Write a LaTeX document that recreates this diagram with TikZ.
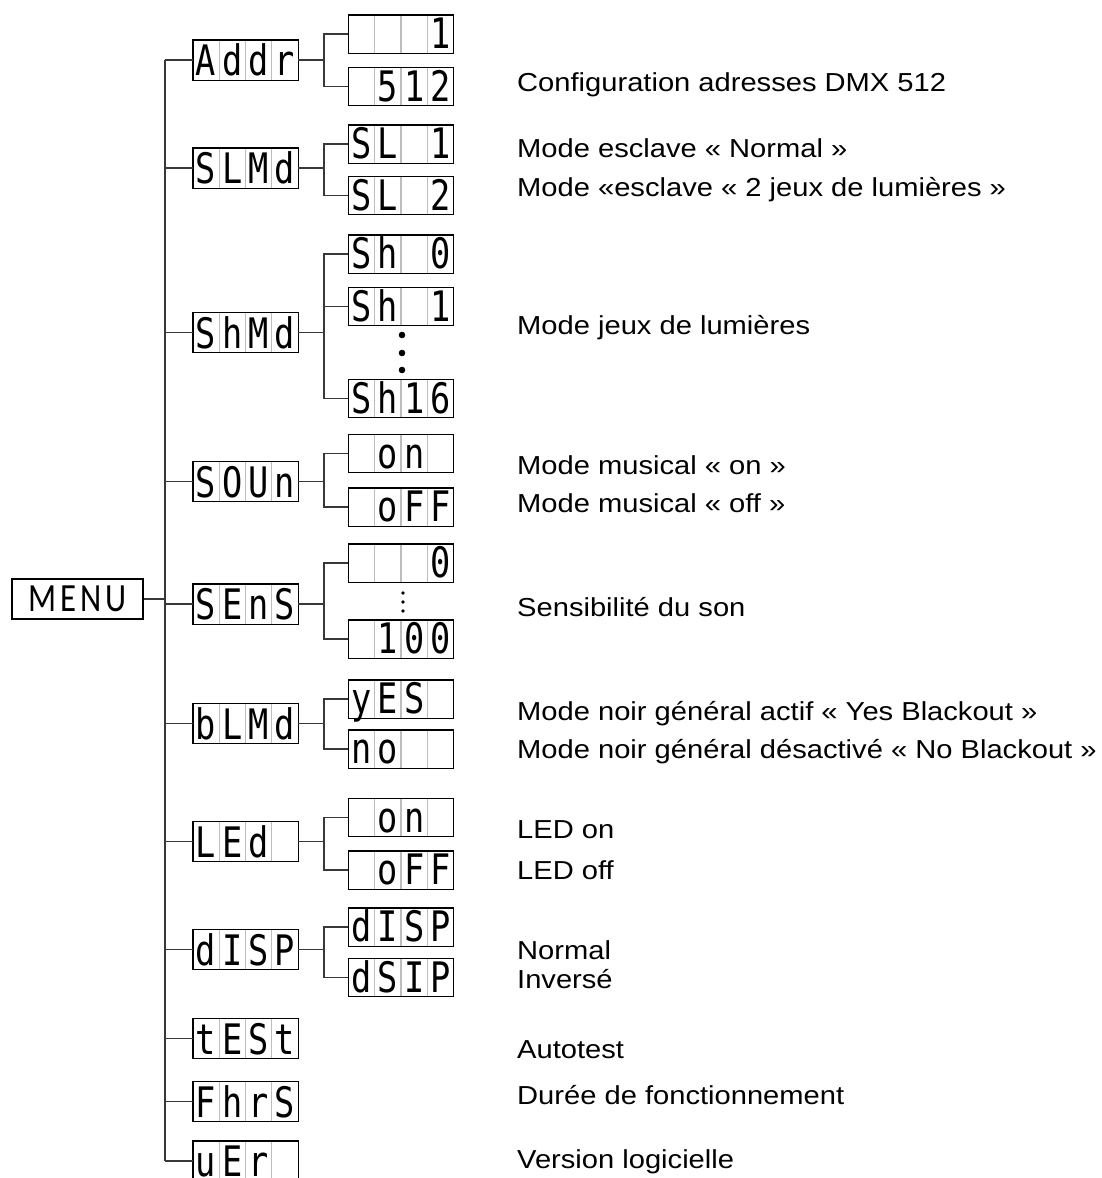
\documentclass[tikz,border=0pt]{standalone}
\usepackage{graphicx}
\usepackage{fontspec}
\setmainfont{Liberation Sans}[FakeStretch=1.12]
\newfontfamily\segfont{DejaVu Sans Mono}[FakeStretch=0.8]
\newfontfamily\menufont{Carlito}
\usetikzlibrary{calc}
\definecolor{connc}{HTML}{383838}
\definecolor{divc}{HTML}{BDBDBD}
\tikzset{
  lone/.style={rectangle, minimum width=105pt, minimum height=40pt, inner sep=0pt},
  ltwo/.style={rectangle, minimum width=105pt, minimum height=38pt, inner sep=0pt},
  boxline/.style={draw=black, line width=1.4pt},
  celldiv/.style={draw=divc, line width=1.1pt},
  segchar/.style={font=\segfont\fontsize{42}{42}\selectfont, inner sep=0pt, anchor=base, text depth=0pt},
  conn/.style={draw=connc, line width=1.5pt},
  desc/.style={font=\fontsize{26}{30}\selectfont, inner sep=0pt, anchor=base west},
  menubox/.style={draw=black, line width=1.4pt, minimum width=131pt, minimum height=40pt, inner sep=0pt,
    font=\menufont\fontsize{40}{42}\selectfont},
  dotbig/.style={fill=black},
}
\newcommand\lcd[7]{%
  \node[#3] (#1) at (#2) {};
  \foreach \k in {1,2,3}{\draw[celldiv] ($(#1.north west)!\k/4!(#1.north east)$) -- ($(#1.south west)!\k/4!(#1.south east)$);}
  \draw[boxline] (#1.north west) rectangle (#1.south east);
  \node[segchar] (#1-a) at ($(#1.south west)!0.125!(#1.south east)+(0,-4.5)$) {#4};
  \node[segchar] (#1-b) at ($(#1.south west)!0.375!(#1.south east)+(0,-4.5)$) {#5};
  \node[segchar] (#1-c) at ($(#1.south west)!0.625!(#1.south east)+(0,-4.5)$) {#6};
  \node[segchar] (#1-d) at ($(#1.south west)!0.875!(#1.south east)+(0,-4.5)$) {#7};
}
\begin{document}
\begin{tikzpicture}[x=1pt,y=-1pt]
\useasboundingbox (0,0) rectangle (1102,1178);
\clip (0,0) rectangle (1102,1178);

% MENU
\node[menubox] (menu) at (77.5,599) {\scalebox{0.82}[1]{M\kern5pt E\kern5pt N\kern5pt U}};
\coordinate (trunk) at (165,0);

% level 1
\lcd{addr}{245.5,60}{lone}{A}{d}{d}{r}
\lcd{slmd}{245.5,168}{lone}{S}{L}{M}{d}
\lcd{shmd}{245.5,332.5}{lone}{S}{h}{M}{d}
\lcd{soun}{245.5,481.5}{lone}{S}{O}{U}{n}
\lcd{sens}{245.5,604}{lone}{S}{E}{n}{S}
\lcd{blmd}{245.5,723.5}{lone}{b}{L}{M}{d}
\lcd{led}{245.5,841.5}{lone}{L}{E}{d}{}
\lcd{disp}{245.5,949.5}{lone}{d}{I}{S}{P}
\lcd{test}{245.5,1038.5}{lone}{t}{E}{S}{t}
\lcd{fhrs}{245.5,1101.5}{lone}{F}{h}{r}{S}
\lcd{ver}{245.5,1161}{lone}{u}{E}{r}{}

% level 2
\lcd{addrA}{401,34}{ltwo}{}{}{}{1}
\lcd{addrB}{401,86.5}{ltwo}{}{5}{1}{2}
\lcd{slA}{401,144}{ltwo}{S}{L}{}{1}
\lcd{slB}{401,195.5}{ltwo}{S}{L}{}{2}
\lcd{shA}{401,254}{ltwo}{S}{h}{}{0}
\lcd{shB}{401,306.5}{ltwo}{S}{h}{}{1}
\lcd{shC}{401,398.5}{ltwo}{S}{h}{1}{6}
\lcd{souA}{401,453.5}{ltwo}{}{o}{n}{}
\lcd{souB}{401,507}{ltwo}{}{o}{F}{F}
\lcd{senA}{401,563}{ltwo}{}{}{}{0}
\lcd{senB}{401,639}{ltwo}{}{1}{0}{0}
\lcd{blA}{401,699}{ltwo}{y}{E}{S}{}
\lcd{blB}{401,749}{ltwo}{n}{o}{}{}
\lcd{ledA}{401,817.5}{ltwo}{}{o}{n}{}
\lcd{ledB}{401,870}{ltwo}{}{o}{F}{F}
\lcd{dispA}{401,927}{ltwo}{d}{I}{S}{P}
\lcd{dispB}{401,977.5}{ltwo}{d}{S}{I}{P}

% trunk and menu connector
\draw[conn] (menu.east) -- (menu.east -| trunk);
\draw[conn] (addr.west -| trunk) -- (ver.west -| trunk);
\foreach \n in {addr,slmd,shmd,soun,sens,blmd,led,disp,test,fhrs,ver}{
  \draw[conn] (\n.west -| trunk) -- (\n.west);
}

% level1 -> level2
\foreach \p/\a/\b in {addr/addrA/addrB, slmd/slA/slB, shmd/shA/shC, soun/souA/souB, sens/senA/senB, blmd/blA/blB, led/ledA/ledB, disp/dispA/dispB}{
  \draw[conn] (\p.east) -- ++(26,0) coordinate (\p-j);
  \draw[conn] (\a.west) -| (\p-j) |- (\b.west);
}
\draw[conn] (shB.west) -- (shB.west -| shmd-j);

% dots
\foreach \y in {335,353,370}{\fill[dotbig] (402,\y) circle (3.3);}
\foreach \y in {593,602,611}{\fill[dotbig] (403,\y) circle (1.8);}

% descriptions
\node[desc] (t1) at (517,91) {Configuration adresses DMX 512};
\node[desc] (t2) at (517,157) {Mode esclave « Normal »};
\node[desc] (t3) at (517,196) {Mode «esclave « 2 jeux de lumières »};
\node[desc] (t4) at (517,334) {Mode jeux de lumières};
\node[desc] (t5) at (517,474) {Mode musical « on »};
\node[desc] (t6) at (517,512) {Mode musical « off »};
\node[desc] (t7) at (517,616) {Sensibilité du son};
\node[desc] (t8) at (517,720) {Mode noir général actif « Yes Blackout »};
\node[desc] (t9) at (517,758) {Mode noir général désactivé « No Blackout »};
\node[desc] (t10) at (517,838) {LED on};
\node[desc] (t11) at (517,879) {LED off};
\node[desc] (t12) at (517,959) {Normal};
\node[desc] (t13) at (517,988) {Inversé};
\node[desc] (t14) at (517,1058) {Autotest};
\node[desc] (t15) at (517,1104) {Durée de fonctionnement};
\node[desc] (t16) at (517,1168) {Version logicielle};
\end{tikzpicture}
\end{document}
